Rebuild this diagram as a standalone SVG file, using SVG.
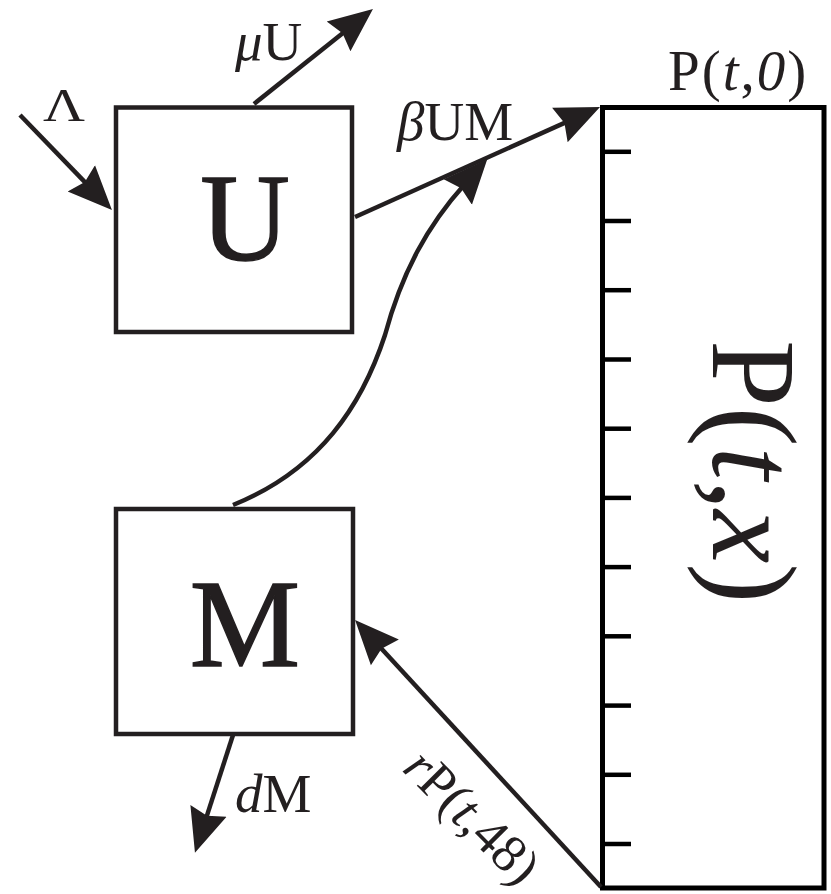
<svg xmlns="http://www.w3.org/2000/svg" width="831" height="894" viewBox="0 0 831 894">
<defs>
<style>
.box{fill:#fff;stroke:#231f20;stroke-width:4.5}
.pbox{fill:#fff;stroke:#000;stroke-width:5}
.tick{stroke:#000;stroke-width:4.5}
.conn{fill:none;stroke:#231f20;stroke-width:4.5}
text{font-family:"Liberation Serif","Times New Roman",serif;fill:#231f20}
.big{font-size:124px;stroke:#231f20;stroke-width:1.5}
.lbl{font-size:55px}
.it{font-style:italic}
</style>
<marker id="ah" markerUnits="userSpaceOnUse" viewBox="0 -20 44 40" markerWidth="44" markerHeight="40" refX="10" refY="0" orient="auto">
<path d="M0,-19 L44,0 L0,19 L5,0 Z" fill="#231f20"/>
</marker>
</defs>
<rect width="831" height="894" fill="#fff"/>
<g id="node-U">
<rect class="box" x="116" y="107.5" width="236" height="224.5"/>
<text class="big" x="245" y="260" text-anchor="middle">U</text>
</g>
<g id="node-M">
<rect class="box" x="116" y="509" width="237" height="225"/>
<text class="big" x="245" y="666" text-anchor="middle">M</text>
</g>
<g id="node-P">
<rect class="pbox" x="602.5" y="107.5" width="221.5" height="780.5"/>
<g class="tick">
<line x1="602" y1="151.8" x2="631" y2="151.8"/>
<line x1="602" y1="221" x2="631" y2="221"/>
<line x1="602" y1="290.2" x2="631" y2="290.2"/>
<line x1="602" y1="359.5" x2="631" y2="359.5"/>
<line x1="602" y1="428.7" x2="631" y2="428.7"/>
<line x1="602" y1="497.9" x2="631" y2="497.9"/>
<line x1="602" y1="567.1" x2="631" y2="567.1"/>
<line x1="602" y1="636.3" x2="631" y2="636.3"/>
<line x1="602" y1="705.6" x2="631" y2="705.6"/>
<line x1="602" y1="774.8" x2="631" y2="774.8"/>
<line x1="602" y1="844" x2="631" y2="844"/>
</g>
<text transform="translate(713,340) rotate(90)" style="font-size:120px">P(<tspan class="it">t</tspan>,<tspan class="it">x</tspan>)</text>
<text x="668" y="90" style="font-size:57px;letter-spacing:2px">P(<tspan class="it">t</tspan>,<tspan class="it">0</tspan>)</text>
</g>
<g id="connectors">
<path class="conn" d="M20,115 L88.3,185.6" marker-end="url(#ah)"/>
<path class="conn" d="M254,104 L346.4,30.2" marker-end="url(#ah)"/>
<path class="conn" d="M355,217 L569,120.9" marker-end="url(#ah)"/>
<path class="conn" d="M233,505 C320,470 362,405 385,335 C402,272 428,225 464.5,184.5" marker-end="url(#ah)"/>
<path class="conn" d="M601,887 L378.1,645" marker-end="url(#ah)"/>
<path class="conn" d="M233,735 L205.4,820.4" marker-end="url(#ah)"/>
</g>
<g id="labels">
<text transform="translate(64,121) scale(1,0.8)" text-anchor="middle" style="font-size:58px">Λ</text>
<text class="lbl" x="235" y="60"><tspan class="it">μ</tspan>U</text>
<text class="lbl" x="397" y="140"><tspan class="it">β</tspan>UM</text>
<text class="lbl" x="235" y="812"><tspan class="it">d</tspan>M</text>
<text transform="translate(401,770) rotate(45)" style="font-size:53px"><tspan class="it">r</tspan>P(<tspan class="it">t</tspan>,48)</text>
</g>
</svg>
